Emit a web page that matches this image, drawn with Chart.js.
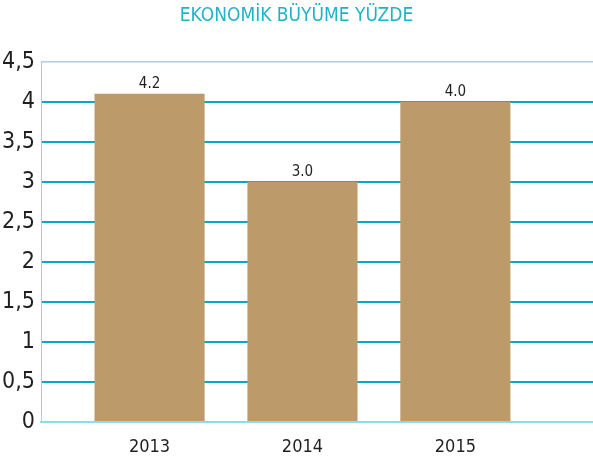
<!DOCTYPE html>
<html>
<head>
<meta charset="utf-8">
<script src="https://cdn.jsdelivr.net/npm/chart.js@4"></script>
<style>
  html, body { margin: 0; padding: 0; background: #fff; }
  #wrap { width: 593px; height: 464px; position: relative; }
</style>
</head>
<body>
<div id="wrap"><canvas id="chart"></canvas></div>
<script>
const years = ['2013', '2014', '2015'];
const growth = [4.1, 3.0, 4.0];
const valueLabels = ['4.2', '3.0', '4.0'];
const yTicks = [0, 0.5, 1, 1.5, 2, 2.5, 3, 3.5, 4, 4.5];

const FONT = "'DejaVu Sans Condensed', 'Liberation Sans Narrow', sans-serif";
const TEAL = '#00adc4';
const TEAL_LIGHT = '#8fdbe6';
const DARK = '#231f20';

// labels over the bars
const barLabels = {
    id: 'barLabels',
    afterDatasetsDraw(chart) {
        const ctx = chart.ctx;
        const meta = chart.getDatasetMeta(0);
        ctx.save();
        ctx.font = '15px ' + FONT;
        ctx.fillStyle = DARK;
        ctx.textAlign = 'center';
        ctx.textBaseline = 'bottom';
        meta.data.forEach((bar, i) => {
            ctx.fillText(valueLabels[i], bar.x, bar.y - 2);
        });
        ctx.restore();
    }
};

new Chart(document.getElementById('chart'), {
    type: 'bar',
    data: {
        datasets: [{
            data: growth.map((v, i) => ({ x: i, y: v })),
            backgroundColor: '#bc9a6a',
            borderWidth: 0,
        }]
    },
    options: {
        responsive: true,
        maintainAspectRatio: false,
        animation: false,
        layout: { padding: 0 },
        plugins: {
            legend: { display: false },
            tooltip: { enabled: false },
            title: {
                display: true,
                text: 'EKONOMİK BÜYÜME YÜZDE',
                color: '#1fb3ca',
                font: { family: FONT, size: 19, weight: 'normal' },
                padding: { top: 5, bottom: 34 },
            }
        },
        scales: {
            x: {
                type: 'linear',
                offset: false,
                min: -0.71,
                max: 2.9,
                afterBuildTicks: (scale) => {
                    scale.ticks = years.map((_, i) => ({ value: i }));
                },
                afterFit: (scale) => { scale.height = 42; },
                grid: { display: false, drawTicks: false, offset: false },
                border: { display: true, color: TEAL_LIGHT, width: 2 },
                ticks: {
                    callback: (v) => years[v],
                    color: DARK,
                    font: { family: FONT, size: 18 },
                    padding: 15,
                    maxRotation: 0,
                }
            },
            y: {
                min: 0,
                max: 4.5,
                afterBuildTicks: (scale) => {
                    scale.ticks = yTicks.map((v) => ({ value: v }));
                },
                afterFit: (scale) => { scale.width = 41; },
                grid: {
                    drawTicks: false,
                    color: (c) => (c.tick.value === 0 || c.tick.value === 4.5) ? TEAL_LIGHT : TEAL,
                    lineWidth: (c) => c.tick.value === 4.5 ? 1.5 : 2,
                },
                border: { display: true, color: TEAL_LIGHT, width: 1 },
                ticks: {
                    callback: (v) => String(v).replace('.', ','),
                    color: DARK,
                    font: { family: FONT, size: 23 },
                    padding: 6,
                }
            }
        }
    },
    plugins: [barLabels]
});
</script>
</body>
</html>
